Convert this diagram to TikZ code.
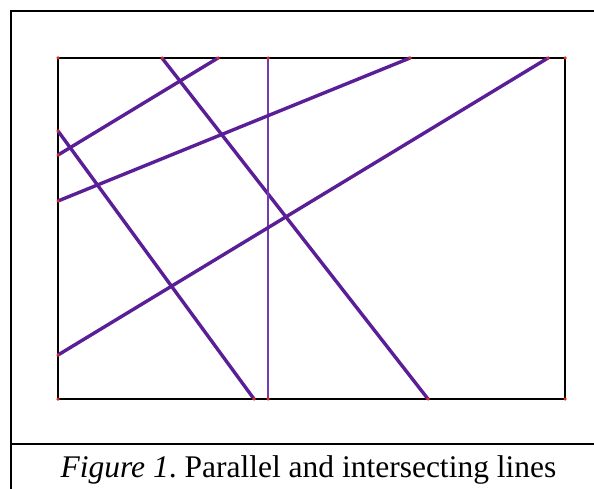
\documentclass[tikz,border=0pt]{standalone}
\usepackage{fontspec}
\setmainfont{Liberation Serif}
\usepackage{tikz}
\usetikzlibrary{positioning}

\definecolor{lnpurple}{RGB}{90,30,150}
\definecolor{vtpurple}{RGB}{112,60,176}
\definecolor{ptred}{RGB}{230,40,20}

\begin{document}
\begin{tikzpicture}[
  x=1pt, y=-1pt,
  frame/.style={draw=black,line width=1.8pt},
  board/.style={draw=black,line width=2.8pt},
  seg/.style={draw=lnpurple,line width=3.4pt},
  vseg/.style={draw=vtpurple,line width=2.2pt},
  pt/.style={fill=ptred,circle,inner sep=0pt,minimum size=3.5pt}
]
\useasboundingbox (0,0) rectangle (594,489);
% outer frame and caption rule
\coordinate (ftl) at (11,11);
\coordinate (ftr) at (600,11);
\coordinate (fbl) at (11,495);
\coordinate (cl) at (11,444);
\coordinate (cr) at (600,444);
\draw[frame] (ftr) -- (ftl) -- (fbl);
\draw[frame] (cl) -- (cr);
% board corners
\coordinate (tl) at (58,58);
\coordinate (tr) at (565,58);
\coordinate (br) at (565,399);
\coordinate (bl) at (58,399);
\draw[board] (tl) -- (tr) -- (br) -- (bl) -- cycle;
% end points on the edges
\coordinate (t1) at (162,58);
\coordinate (t2) at (218,58);
\coordinate (t3) at (268,58);
\coordinate (t4) at (410,58);
\coordinate (t5) at (548,58);
\coordinate (l1) at (58,131);
\coordinate (l2) at (58,155);
\coordinate (l3) at (58,201);
\coordinate (l4) at (58,355);
\coordinate (b1) at (254,399);
\coordinate (b2) at (268,399);
\coordinate (b3) at (428,399);
% lines
\draw[seg] (t1) -- (b3);
\draw[seg] (t2) -- (l2);
\draw[vseg] (t3) -- (b2);
\draw[seg] (t4) -- (l3);
\draw[seg] (t5) -- (l4);
\draw[seg] (l1) -- (b1);
% points
\foreach \p in {tl,tr,br,bl,t1,t2,t3,t4,t5,l1,l2,l3,l4,b1,b2,b3}
  \node[pt] at (\p) {};
% caption
\node[font=\fontsize{31.5}{38}\selectfont,anchor=base,inner sep=0pt] (cap) at (308.5,477)
  {\frenchspacing\textit{Figure 1}. Parallel and intersecting lines};
\end{tikzpicture}
\end{document}
